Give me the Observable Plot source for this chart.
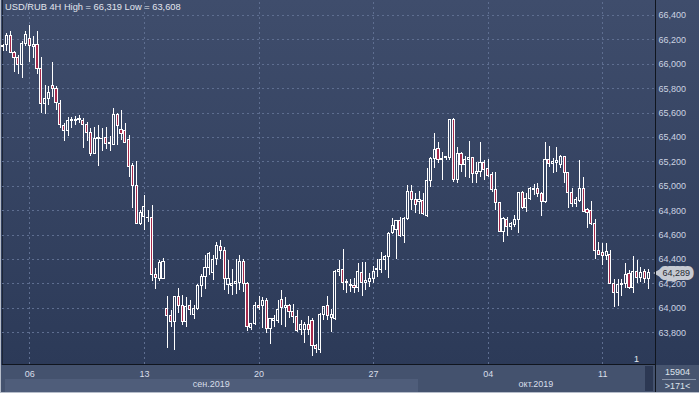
<!DOCTYPE html>
<html>
<head>
<meta charset="utf-8">
<script src="https://cdn.jsdelivr.net/npm/d3@7"></script>
<script src="https://cdn.jsdelivr.net/npm/@observablehq/plot@0.6"></script>
<style>
  body { margin: 0; background: #ffffff; }
  #wrap { position: relative; width: 699px; height: 393px; overflow: hidden;
          font-family: "Liberation Sans", Arial, sans-serif; }
  .abs { position: absolute; }
  #bgMain { left: 0; top: 0; width: 699px; height: 365px;
            background: linear-gradient(to bottom, #3f4d6c 0%, #2c3a58 100%); }
  #bgBottom { left: 0; top: 365px; width: 699px; height: 28px; background: #44526e; }
  #bandSep { left: 5px; top: 379px; width: 413px; height: 13px; background: #4f5d7a; }
  #scrollBar { left: 645px; top: 366px; width: 8px; height: 25px; background: #2c3853; }
  #vline { left: 655px; top: 0; width: 1px; height: 393px; background: #10151e; }
  #hline { left: 2px; top: 364px; width: 654px; height: 1px; background: #10151e; }
  #lline { left: 2px; top: 0; width: 1px; height: 365px; background: #1d2636; }
  #bLeft { left: 0; top: 0; width: 1px; height: 393px; background: #b6bdca; }
  #bBottom { left: 0; top: 392px; width: 699px; height: 1px; background: #b6bdca; }
  #rpanel { left: 656px; top: 365px; width: 43px; height: 27px; background: #46546f; }
  #rsep { left: 662px; top: 379px; width: 34px; height: 1px; background: #8a96ab; }
  #chart { left: 0; top: 0; }
  #title { left: 5px; top: 2px; font-size: 9.3px; line-height: 11px; color: #e2e6ee; white-space: nowrap; }
  .rtxt { width: 43px; left: 656px; text-align: center; font-size: 9px; line-height: 10px; height: 10px; color: #dde3ec; white-space: nowrap; }
  #marker { left: 634px; top: 354px; font-size: 9px; line-height: 10px; color: #e6eaf0; }
</style>
</head>
<body>
<div id="wrap">
  <div class="abs" id="bgMain"></div>
  <div class="abs" id="bgBottom"></div>
  <div class="abs" id="bandSep"></div>
  <div class="abs" id="scrollBar"></div>
  <div class="abs" id="rpanel"></div>
  <div class="abs" id="rsep"></div>
  <div class="abs" id="lline"></div>
  <div class="abs" id="chart"></div>
  <div class="abs" id="vline"></div>
  <div class="abs" id="hline"></div>
  <div class="abs" id="bLeft"></div>
  <div class="abs" id="bBottom"></div>
  <div class="abs" id="title"></div>
  <div class="abs rtxt" id="rTop" style="top:367px"></div>
  <div class="abs rtxt" id="rBot" style="top:381px"></div>
  <div class="abs" id="marker"></div>
</div>
<script>
// ---- data (USD/RUB, 4H candles) ----
const symbolName = "USD/RUB";
const timeframe = "4H";

const openP = [
66.14,66.16,66.228,66.094,66.053,65.996,66.168,66.203,66.141,66.16,
65.963,65.677,65.718,65.821,65.794,65.677,65.491,65.453,65.532,65.535,
65.54,65.537,65.505,65.439,65.267,65.384,65.39,65.398,65.354,65.341,
65.581,65.458,65.45,65.376,65.166,65.002,64.694,64.748,64.743,64.743,
64.276,64.243,64.243,63.995,63.94,63.885,64.09,64.022,63.885,64.022,
63.948,63.995,64.186,64.254,64.33,64.287,64.404,64.505,64.467,64.191,
64.18,64.197,64.207,64.382,64.199,63.836,63.872,64.022,64.022,64.063,
63.831,63.893,63.899,64.071,64.003,64.016,63.973,63.926,63.822,63.825,
63.863,63.899,63.689,63.661,63.945,64.016,63.92,63.915,64.297,64.316,
64.207,64.19,64.18,64.169,64.292,64.21,64.215,64.242,64.311,64.311,
64.393,64.42,64.616,64.638,64.712,64.592,64.734,64.952,64.884,64.873,
64.878,64.753,65.042,65.225,65.307,65.212,65.231,65.231,65.545,65.053,
65.266,65.171,65.217,65.231,65.097,65.116,65.192,65.143,65.094,64.971,
64.862,64.624,64.725,64.665,64.679,64.72,64.944,64.824,64.897,64.979,
64.979,64.938,64.87,65.217,65.184,65.192,65.176,65.239,65.11,64.947,
64.851,64.876,64.979,64.802,64.794,64.693,64.474,64.455,64.433,64.441,
64.201,64.125,64.188,64.196,64.278,64.168,64.297,64.248,64.297,64.237];

const highP = [
66.16,66.25,66.264,66.105,66.072,66.182,66.272,66.319,66.223,66.264,
66.059,65.827,65.821,66.012,65.821,65.704,65.513,65.562,65.567,65.573,
65.581,65.554,65.526,65.472,65.485,65.499,65.472,65.485,65.404,65.636,
65.595,65.622,65.513,65.417,65.185,65.199,64.803,64.926,64.803,64.844,
64.325,64.393,64.407,64.098,63.981,64.096,64.166,64.104,64.09,64.063,
64.022,64.199,64.281,64.431,64.459,64.431,64.54,64.554,64.5,64.396,
64.322,64.404,64.437,64.404,64.213,63.872,64.049,64.096,64.09,64.082,
63.913,63.94,64.063,64.145,64.09,64.035,64.035,63.981,63.899,63.885,
63.934,63.913,63.7,63.954,64.014,64.098,63.988,64.311,64.393,64.48,
64.234,64.234,64.242,64.365,64.373,64.379,64.283,64.343,64.398,64.461,
64.433,64.625,64.734,64.72,64.747,64.747,65.007,65.007,64.938,64.958,
64.938,65.143,65.238,65.43,65.362,65.28,65.244,65.545,65.553,65.315,
65.28,65.244,65.367,65.239,65.198,65.362,65.212,65.217,65.116,65.116,
64.87,64.747,64.747,64.706,64.761,64.952,64.957,64.938,64.993,65.015,
65.026,64.952,65.356,65.326,65.225,65.32,65.252,65.244,65.116,64.979,
64.911,65.211,65.069,64.815,64.878,64.725,64.542,64.529,64.529,64.474,
64.234,64.234,64.238,64.365,64.31,64.425,64.392,64.338,64.316,64.316];

const lowP = [
66.105,66.105,66.086,65.93,65.914,65.881,66.141,66.018,66.045,65.914,
65.595,65.586,65.663,65.731,65.622,65.477,65.363,65.404,65.472,65.494,
65.513,65.313,65.363,65.24,65.259,65.166,65.281,65.303,65.281,65.335,
65.335,65.376,65.349,65.076,64.822,64.686,64.675,64.639,64.707,64.216,
64.153,64.216,64.238,63.672,63.844,63.653,63.954,63.858,63.844,63.94,
63.907,63.981,64.09,64.158,64.268,64.227,64.349,64.404,64.145,64.117,
64.104,64.117,64.145,64.131,63.809,63.817,63.863,63.981,63.831,63.798,
63.7,63.844,63.872,63.858,63.844,63.913,63.872,63.803,63.776,63.716,
63.776,63.608,63.631,63.631,63.899,63.899,63.806,63.901,64.262,64.147,
64.12,64.133,64.12,64.133,64.1,64.147,64.174,64.201,64.256,64.283,
64.311,64.242,64.605,64.398,64.584,64.529,64.72,64.802,64.78,64.769,
64.761,64.747,64.988,65.143,65.184,65.048,65.212,65.212,65.034,65.026,
65.116,65.075,65.067,65.026,65.026,65.075,65.048,65.075,64.952,64.802,
64.624,64.542,64.589,64.638,64.665,64.616,64.81,64.788,64.884,64.925,
64.911,64.753,64.856,65.157,65.102,65.116,65.143,65.02,64.815,64.829,
64.824,64.87,64.783,64.652,64.679,64.398,64.433,64.351,64.392,64.196,
64.005,64.018,64.1,64.16,64.152,64.12,64.207,64.215,64.207,64.152];

const closeP = [
66.146,66.228,66.094,66.053,65.996,66.168,66.236,66.146,66.16,65.963,
65.677,65.718,65.767,65.794,65.685,65.499,65.453,65.535,65.543,65.54,
65.548,65.499,65.439,65.267,65.39,65.398,65.385,65.349,65.346,65.581,
65.494,65.431,65.357,65.158,65.002,64.694,64.784,64.83,64.74,64.276,
64.251,64.374,64.38,63.94,63.885,64.09,64.022,63.885,64.014,63.986,
63.995,64.186,64.254,64.33,64.445,64.396,64.513,64.467,64.24,64.24,
64.199,64.213,64.377,64.199,63.85,63.872,64.022,64.003,64.063,63.831,
63.913,63.913,63.989,64.0,64.022,63.973,63.926,63.817,63.863,63.863,
63.825,63.689,63.667,63.945,64.008,63.94,63.942,64.297,64.316,64.207,
64.215,64.18,64.17,64.297,64.207,64.221,64.242,64.297,64.319,64.393,
64.42,64.611,64.671,64.712,64.592,64.734,64.952,64.884,64.843,64.884,
64.769,65.042,65.225,65.299,65.212,65.225,65.239,65.539,65.053,65.266,
65.171,65.217,65.231,65.097,65.121,65.192,65.13,65.088,64.966,64.862,
64.624,64.734,64.665,64.693,64.72,64.944,64.824,64.897,64.979,64.971,
64.938,64.87,65.217,65.184,65.203,65.206,65.239,65.11,64.947,64.851,
64.889,64.979,64.788,64.783,64.693,64.474,64.441,64.433,64.461,64.201,
64.125,64.188,64.201,64.27,64.168,64.297,64.248,64.289,64.237,64.289];

const yTicks = [63.8, 64.0, 64.2, 64.4, 64.6, 64.8, 65.0, 65.2, 65.4, 65.6, 65.8, 66.0, 66.2, 66.4];
const weekIdx = [7, 37, 67, 97, 127, 157];
const dayLabels = ["06", "13", "20", "27", "04", "11"];
const monthIdx = [54.5, 139.5];
const monthLabels = ["сен.2019", "окт.2019"];
const barsTotal = "15904";
const barsVisible = ">171<";
const markerLabel = "1";

// ---- build ----
const candles = openP.map((o, i) => ({ i, open: o, high: highP[i], low: lowP[i], close: closeP[i] }));
const up = candles.filter(d => d.close >= d.open);
const down = candles.filter(d => d.close < d.open);
const fmt = v => v.toFixed(3).replace(".", ",");
const last = candles[candles.length - 1];

const gridColor = "#5e6e90";
const bearFill = "#a6294b";

const chart = Plot.plot({
  width: 699,
  height: 393,
  marginLeft: 2,
  marginRight: 44,
  marginTop: 2,
  marginBottom: 28,
  x: { type: "linear", domain: [-0.15, 170.8], label: null },
  y: { type: "linear", domain: [63.532, 66.5055], label: null },
  style: { background: "transparent", fontFamily: "Liberation Sans, Arial, sans-serif", fontSize: "9px", color: "#ccd3e1", overflow: "visible" },
  marks: [
    Plot.ruleY(yTicks, { stroke: gridColor, strokeDasharray: "2,3", shapeRendering: "crispEdges" }),
    Plot.ruleX(weekIdx, { stroke: gridColor, strokeDasharray: "2,3", shapeRendering: "crispEdges" }),
    Plot.ruleX(candles, { x: "i", y1: "high", y2: d => Math.max(d.open, d.close), stroke: "#ffffff", strokeWidth: 1, shapeRendering: "crispEdges" }),
    Plot.ruleX(candles, { x: "i", y1: d => Math.min(d.open, d.close), y2: "low", stroke: "#ffffff", strokeWidth: 1, shapeRendering: "crispEdges" }),
    Plot.rect(down, { x1: d => d.i - 0.28, x2: d => d.i + 0.28, y1: "open", y2: "close", fill: bearFill, stroke: "#ffffff", strokeWidth: 1, shapeRendering: "crispEdges" }),
    Plot.rect(up, { x1: d => d.i - 0.28, x2: d => d.i + 0.28, y1: "open", y2: "close", fill: "none", stroke: "#ffffff", strokeWidth: 1, shapeRendering: "crispEdges" }),
    Plot.axisY({ ticks: yTicks, anchor: "right", tickSize: 0, tickPadding: 3, tickFormat: fmt, fill: "#ccd3e1", label: null }),
    Plot.axisX({ ticks: weekIdx, anchor: "bottom", tickSize: 0, tickPadding: 5, tickFormat: d => dayLabels[weekIdx.indexOf(d)], fill: "#d8dee9", label: null }),
    Plot.axisX({ ticks: monthIdx, anchor: "bottom", tickSize: 0, tickPadding: 15, tickFormat: d => monthLabels[monthIdx.indexOf(d)], fill: "#d8dee9", label: null }),
    Plot.dot([last], { y: "close", frameAnchor: "right", dx: 4, symbol: "triangle", r: 4, rotate: -90, fill: "#c6cad2", stroke: "none" }),
    Plot.text([last], { y: "close", frameAnchor: "right", dx: 7, textAnchor: "start", text: d => fmt(d.close), fill: "#262a33", stroke: "#c6cad2", strokeWidth: 8, strokeLinejoin: "miter", paintOrder: "stroke", fontSize: 9 })
  ]
});
document.getElementById("chart").appendChild(chart);

document.getElementById("title").textContent =
  `${symbolName} ${timeframe} High = ${fmt(d3.max(highP))} Low = ${fmt(d3.min(lowP))}`;
document.getElementById("rTop").textContent = barsTotal;
document.getElementById("rBot").textContent = barsVisible;
document.getElementById("marker").textContent = markerLabel;
</script>
</body>
</html>
